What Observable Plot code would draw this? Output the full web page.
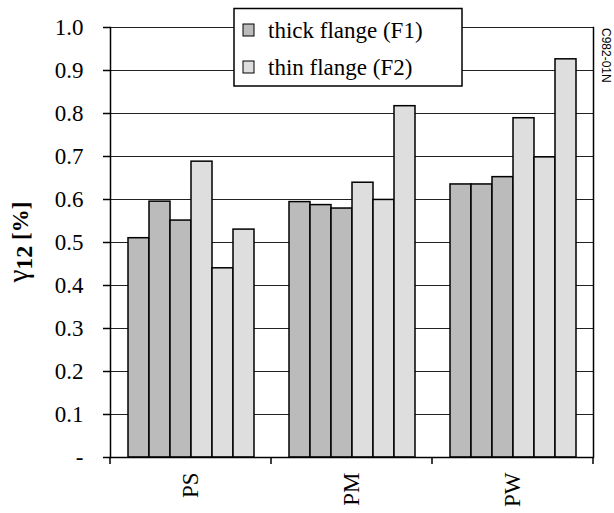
<!DOCTYPE html>
<html><head><meta charset="utf-8">
<script src="https://cdn.jsdelivr.net/npm/d3@7"></script>
<script src="https://cdn.jsdelivr.net/npm/@observablehq/plot@0.6"></script>
<style>
body{margin:0;background:#fff}
#chart{position:relative;width:614px;height:513px}
</style>
</head><body><div id="chart"></div>
<script>
const groups = ["PS", "PM", "PW"];
const barFlange = ["F1", "F1", "F1", "F2", "F2", "F2"];
const psValues = [0.510, 0.595, 0.551, 0.688, 0.440, 0.530];
const pmValues = [0.594, 0.587, 0.579, 0.639, 0.599, 0.817];
const pwValues = [0.635, 0.635, 0.652, 0.789, 0.698, 0.926];
const flangeKeys = ["F1", "F2"];
const legendLabels = ["thick flange (F1)", "thin flange (F2)"];
const yTicks = [0, 0.1, 0.2, 0.3, 0.4, 0.5, 0.6, 0.7, 0.8, 0.9, 1.0];
const yTickLabels = ["-", "0.1", "0.2", "0.3", "0.4", "0.5", "0.6", "0.7", "0.8", "0.9", "1.0"];
const watermark = "C982-01N";

const valuesByGroup = [psValues, pmValues, pwValues];
const rows = [];
groups.forEach((g, gi) => valuesByGroup[gi].forEach((v, i) =>
  rows.push({group: g, bar: i, flange: barFlange[i], value: v})));

const SERIF = "'Liberation Serif', 'Times New Roman', serif";
const SANS = "'Liberation Sans', Arial, sans-serif";

const plot = Plot.plot({
  width: 614, height: 513,
  marginLeft: 110, marginRight: 21, marginTop: 27, marginBottom: 56,
  style: {background: "#fff", overflow: "visible", color: "#000"},
  fx: {domain: groups, padding: 0, label: null},
  x: {domain: d3.range(6), paddingInner: 0, paddingOuter: 0.715, axis: null},
  y: {domain: [0, 1], label: null},
  color: {domain: flangeKeys, range: ["#bbbbbb", "#dedede"]},
  marks: [
    Plot.ruleY(yTicks.filter(d => d > 0), {stroke: "#222", strokeWidth: 1.2}),
    Plot.barY(rows, {fx: "group", x: "bar", y: "value", fill: "flange", stroke: "#000", strokeWidth: 1.5}),
    Plot.ruleY([0], {stroke: "#000", strokeWidth: 1.5}),
    Plot.axisY({ticks: yTicks, tickSize: 7, tickPadding: 20, strokeWidth: 1.5,
      tickFormat: d => yTickLabels[yTicks.findIndex(t => Math.abs(t - d) < 1e-9)],
      label: null, fontSize: 23, fill: "#000"}),
    Plot.axisFx({anchor: "bottom", tickSize: 0, tickRotate: -90, tickPadding: 15, label: null,
      fontSize: 23, fill: "#000"}),
    Plot.frame({anchor: "left", facetAnchor: "left", strokeWidth: 1.5}),
    Plot.frame({anchor: "right", facetAnchor: "right", strokeWidth: 1.5})
  ]
});
document.getElementById("chart").appendChild(plot);

const svg = d3.select(plot);
svg.attr("font-family", SERIF).style("font-family", SERIF);
svg.selectAll("g").attr("font-family", null);
svg.selectAll("text").style("font-family", SERIF).style("font-variant-numeric", "normal");

const fx = plot.scale("fx");
const y = plot.scale("y");
const y0 = y.apply(0);
const bounds = groups.map(g => fx.apply(g)).concat([fx.apply(groups[groups.length - 1]) + fx.bandwidth]);
svg.append("g").selectAll("line").data(bounds).join("line")
  .attr("x1", d => d).attr("x2", d => d).attr("y1", y0).attr("y2", y0 + 7)
  .attr("stroke", "#000").attr("stroke-width", 1.5);

// y-axis title
const title = svg.append("text")
  .attr("transform", `translate(28,${(y.apply(0) + y.apply(1)) / 2}) rotate(-90)`)
  .attr("text-anchor", "middle").attr("fill", "#000").style("font-family", SERIF);
title.append("tspan").attr("font-size", 29).text("γ");
title.append("tspan").attr("font-size", 24).attr("font-weight", "bold").attr("dy", 4).text("12");
title.append("tspan").attr("font-size", 23).attr("font-weight", "bold").attr("dy", -4).text(" [%]");

// legend
const color = plot.scale("color");
const lg = svg.append("g");
lg.append("rect").attr("x", 234).attr("y", 8.5).attr("width", 228).attr("height", 77.5)
  .attr("fill", "#fff").attr("stroke", "#000").attr("stroke-width", 1.5);
flangeKeys.forEach((k, i) => {
  const cy = 30 + i * 37;
  lg.append("rect").attr("x", 243).attr("y", cy - 6).attr("width", 11).attr("height", 12)
    .attr("fill", color.apply(k)).attr("stroke", "#000").attr("stroke-width", 1);
  lg.append("text").attr("x", 268).attr("y", 38 + i * 37).style("font-family", SERIF)
    .attr("text-anchor", "start").attr("font-size", 23).attr("fill", "#000").text(legendLabels[i]);
});

// side code
svg.append("text").attr("transform", "translate(602,28) rotate(90)")
  .attr("text-anchor", "start").attr("font-size", 12).style("font-family", SANS)
  .attr("fill", "#000").text(watermark);
</script>
</body></html>
